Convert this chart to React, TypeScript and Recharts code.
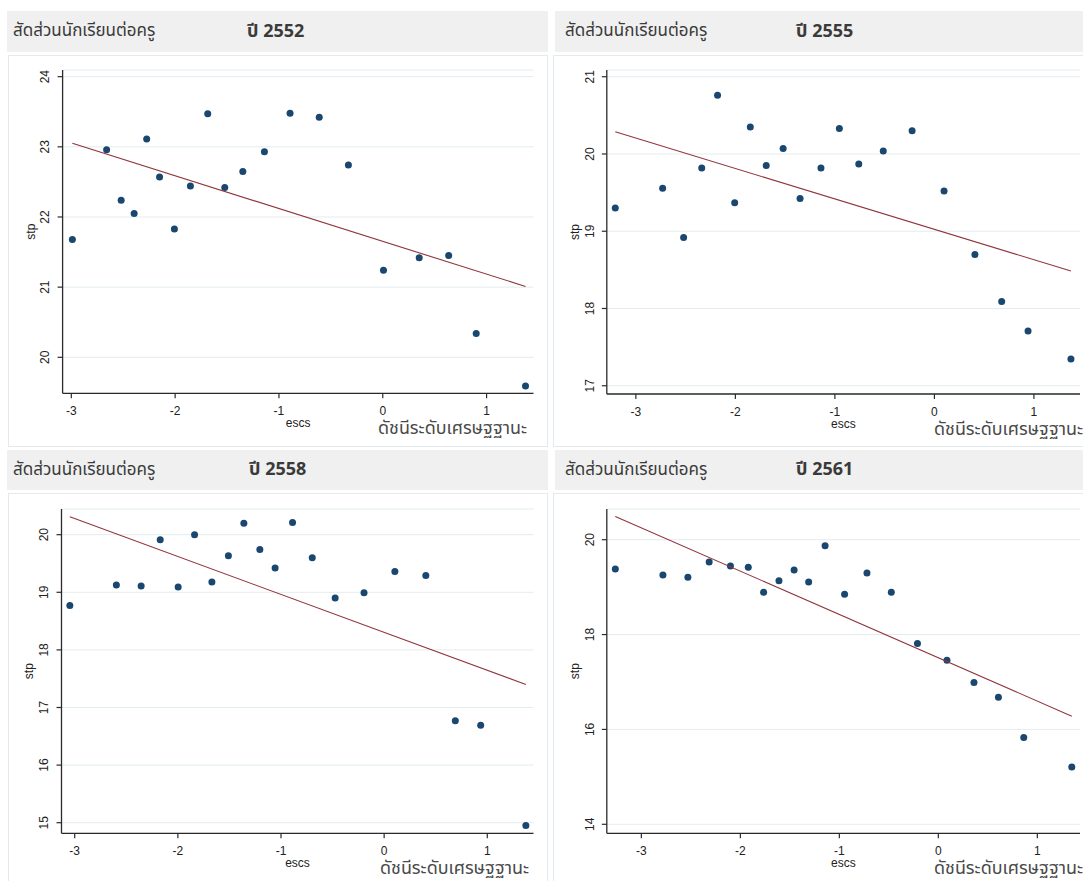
import React from "react";
import { ScatterChart, Scatter, XAxis, YAxis, CartesianGrid } from "recharts";

// ---------- DATA ----------
const xTicks = [-3, -2, -1, 0, 1];

const escs2552 = [-2.99, -2.66, -2.52, -2.395, -2.274, -2.15, -2.007, -1.853, -1.686, -1.522, -1.348, -1.14, -0.893, -0.612, -0.331, 0.007, 0.351, 0.635, 0.9, 1.375];
const stp2552 = [21.68, 22.96, 22.24, 22.05, 23.11, 22.57, 21.83, 22.44, 23.47, 22.42, 22.65, 22.93, 23.48, 23.42, 22.74, 21.24, 21.42, 21.45, 20.34, 19.59];
const fitEscs2552 = [-2.99, 1.375];
const fitStp2552 = [23.05, 21.01];
const yTicks2552 = [20, 21, 22, 23, 24];

const escs2555 = [-3.207, -2.731, -2.52, -2.338, -2.179, -2.007, -1.85, -1.69, -1.52, -1.35, -1.14, -0.955, -0.76, -0.514, -0.224, 0.097, 0.407, 0.676, 0.941, 1.372];
const stp2555 = [19.3, 19.555, 18.92, 19.82, 20.76, 19.37, 20.35, 19.85, 20.07, 19.425, 19.82, 20.33, 19.87, 20.04, 20.3, 19.52, 18.7, 18.09, 17.71, 17.345];
const fitEscs2555 = [-3.207, 1.372];
const fitStp2555 = [20.288, 18.484];
const yTicks2555 = [17, 18, 19, 20, 21];

const escs2558 = [-3.047, -2.596, -2.356, -2.171, -1.997, -1.838, -1.67, -1.51, -1.36, -1.205, -1.057, -0.888, -0.697, -0.475, -0.195, 0.104, 0.404, 0.69, 0.936, 1.374];
const stp2558 = [18.77, 19.126, 19.11, 19.91, 19.09, 20.0, 19.18, 19.635, 20.2, 19.745, 19.42, 20.21, 19.6, 18.9, 18.99, 19.36, 19.29, 16.77, 16.69, 14.95];
const fitEscs2558 = [-3.047, 1.374];
const fitStp2558 = [20.31, 17.4];
const yTicks2558 = [15, 16, 17, 18, 19, 20];

const escs2561 = [-3.263, -2.782, -2.53, -2.315, -2.1, -1.92, -1.765, -1.61, -1.457, -1.31, -1.144, -0.947, -0.721, -0.475, -0.211, 0.087, 0.36, 0.607, 0.863, 1.348];
const stp2561 = [19.38, 19.255, 19.21, 19.53, 19.445, 19.42, 18.89, 19.135, 19.36, 19.11, 19.87, 18.85, 19.3, 18.89, 17.81, 17.46, 16.99, 16.68, 15.83, 15.21];
const fitEscs2561 = [-3.263, 1.348];
const fitStp2561 = [20.49, 16.28];
const yTicks2561 = [14, 16, 18, 20];

const titleText = "สัดส่วนนักเรียนต่อครู";
const yearPrefix = "ปี";
const xTitle = "escs";
const yTitle = "stp";
const noteText = "ดัชนีระดับเศรษฐฐานะ";

// ---------- STYLE ----------
const FONT_THAI = "Tahoma, 'Noto Sans Thai', 'Noto Sans Thai UI', 'Leelawadee UI', 'Noto Sans', 'DejaVu Sans', sans-serif";
const FONT_AXIS = "Arial, 'Liberation Sans', Helvetica, sans-serif";
const MARKER = "#1a476f";
const FITLINE = "#90353b";
const AXIS = "#2b2b2b";
const GRID = "#e3ecef";

const zip = (xs: number[], ys: number[]) => xs.map((x, i) => ({ x, y: ys[i] }));

type Cfg = {
  year: string;
  pts: { x: number; y: number }[];
  fit: { x: number; y: number }[];
  yTicks: number[];
  xDomain: [number, number];
  yDomain: [number, number];
  head: { l: number; t: number; w: number; h: number; titleX: number; yearX: number };
  box: { l: number; t: number; w: number; h: number };
  plot: { l: number; t: number; r: number; b: number };
  noteX: number;
};

const panels: Cfg[] = [
  {
    year: "2552",
    pts: zip(escs2552, stp2552),
    fit: zip(fitEscs2552, fitStp2552),
    yTicks: yTicks2552,
    xDomain: [-3.084, 1.452],
    yDomain: [19.487, 24.095],
    head: { l: 7, t: 11, w: 541, h: 41, titleX: 13, yearX: 247 },
    box: { l: 8, t: 55, w: 540, h: 392 },
    plot: { l: 62.6, t: 70, r: 533.5, b: 393.3 },
    noteX: 378,
  },
  {
    year: "2555",
    pts: zip(escs2555, stp2555),
    fit: zip(fitEscs2555, fitStp2555),
    yTicks: yTicks2555,
    xDomain: [-3.292, 1.463],
    yDomain: [16.893, 21.087],
    head: { l: 555, t: 11, w: 540, h: 41, titleX: 565, yearX: 796 },
    box: { l: 553, t: 55, w: 540, h: 392 },
    plot: { l: 606.8, t: 70, r: 1080, b: 394 },
    noteX: 934,
  },
  {
    year: "2558",
    pts: zip(escs2558, stp2558),
    fit: zip(fitEscs2558, fitStp2558),
    yTicks: yTicks2558,
    xDomain: [-3.128, 1.448],
    yDomain: [14.816, 20.446],
    head: { l: 7, t: 450, w: 541, h: 40, titleX: 13, yearX: 249 },
    box: { l: 8, t: 493, w: 540, h: 392 },
    plot: { l: 61.5, t: 509, r: 533.5, b: 833.3 },
    noteX: 380,
  },
  {
    year: "2561",
    pts: zip(escs2561, stp2561),
    fit: zip(fitEscs2561, fitStp2561),
    yTicks: yTicks2561,
    xDomain: [-3.349, 1.431],
    yDomain: [13.81, 20.647],
    head: { l: 555, t: 450, w: 540, h: 40, titleX: 565, yearX: 796 },
    box: { l: 553, t: 493, w: 540, h: 392 },
    plot: { l: 606.8, t: 509, r: 1080, b: 833.3 },
    noteX: 934,
  },
];

const Dot = (props: any) => {
  const { cx, cy } = props;
  if (cx == null || cy == null) return <g />;
  return <circle cx={cx} cy={cy} r={3.5} fill={MARKER} />;
};

const NoDot = () => <g />;

function Panel({ c }: { c: Cfg }) {
  const { box, plot, head } = c;
  const YW = plot.l - box.l;
  const XH = 30;
  const mTop = plot.t - box.t;
  const mRight = box.l + box.w - plot.r;
  const mBottom = box.t + box.h - plot.b - XH;
  const axisY = plot.b - box.t;
  const plotCx = (plot.l + plot.r) / 2 - box.l;
  const plotCy = (plot.t + plot.b) / 2 - box.t;

  const XTick = (p: any) => (
    <text x={p.x} y={axisY + 22} textAnchor="middle" fontSize={12} fill="#222" fontFamily={FONT_AXIS}>
      {p.payload.value}
    </text>
  );
  const YTick = (p: any) => {
    const bx = YW - 17.4 + 4.3;
    return (
      <text x={bx} y={p.y} transform={`rotate(-90 ${bx} ${p.y})`} textAnchor="middle" fontSize={12} fill="#222" fontFamily={FONT_AXIS}>
        {p.payload.value}
      </text>
    );
  };

  const stpX = YW - 31 + 3;

  return (
    <>
      <div
        style={{
          position: "absolute",
          left: head.l,
          top: head.t,
          width: head.w,
          height: head.h,
          background: "#f0f0f0",
        }}
      />
      <div
        style={{
          position: "absolute",
          left: head.titleX,
          top: head.t,
          height: head.h,
          lineHeight: head.h + "px",
          fontFamily: FONT_THAI,
          fontSize: 17,
          color: "#3a3a3a",
          whiteSpace: "nowrap",
        }}
      >
        {titleText}
      </div>
      <div
        style={{
          position: "absolute",
          left: head.yearX,
          top: head.t,
          height: head.h,
          lineHeight: head.h + "px",
          fontFamily: FONT_THAI,
          fontSize: 18,
          fontWeight: "bold",
          color: "#3a3a3a",
          whiteSpace: "nowrap",
        }}
      >
        {yearPrefix} {c.year}
      </div>
      <div
        style={{
          position: "absolute",
          left: box.l,
          top: box.t,
          width: box.w - 2,
          height: box.h - 2,
          border: "1px solid #e2eaed",
          background: "#fff",
        }}
      />
      <div style={{ position: "absolute", left: box.l, top: box.t }}>
        <ScatterChart
          width={box.w}
          height={box.h}
          margin={{ top: mTop, right: mRight, bottom: mBottom, left: 0 }}
        >
          <CartesianGrid vertical={false} stroke={GRID} strokeWidth={1} />
          <XAxis
            type="number"
            dataKey="x"
            domain={c.xDomain}
            ticks={xTicks}
            interval={0}
            allowDataOverflow
            height={XH}
            tickSize={5}
            axisLine={{ stroke: AXIS, strokeWidth: 1.3 }}
            tickLine={{ stroke: AXIS, strokeWidth: 1.2 }}
            tick={XTick}
          />
          <YAxis
            type="number"
            dataKey="y"
            domain={c.yDomain}
            ticks={c.yTicks}
            interval={0}
            allowDataOverflow
            width={YW}
            tickSize={5}
            axisLine={{ stroke: AXIS, strokeWidth: 1.3 }}
            tickLine={{ stroke: AXIS, strokeWidth: 1.2 }}
            tick={YTick}
          />
          <Scatter data={c.pts} shape={Dot} isAnimationActive={false} />
          <Scatter
            data={c.fit}
            shape={NoDot}
            line={{ stroke: FITLINE, strokeWidth: 1.1 }}
            isAnimationActive={false}
          />
        </ScatterChart>
      </div>
      <svg
        style={{ position: "absolute", left: box.l, top: box.t, overflow: "visible", pointerEvents: "none" }}
        width={box.w}
        height={box.h}
      >
        <text
          x={stpX}
          y={plotCy}
          transform={`rotate(-90 ${stpX} ${plotCy})`}
          textAnchor="middle"
          fontSize={12}
          fill="#222"
          fontFamily={FONT_AXIS}
        >
          {yTitle}
        </text>
        <text x={plotCx} y={axisY + 34} textAnchor="middle" fontSize={12} fill="#222" fontFamily={FONT_AXIS}>
          {xTitle}
        </text>
        <text
          x={c.noteX - box.l}
          y={axisY + 41}
          fontSize={17}
          fill="#4a4a4a"
          fontFamily={FONT_THAI}
          textLength={149}
          lengthAdjust="spacingAndGlyphs"
        >
          {noteText}
        </text>
      </svg>
    </>
  );
}

export default function App() {
  return (
    <div
      style={{
        position: "absolute",
        left: 0,
        top: 0,
        width: 1083,
        height: 881,
        overflow: "hidden",
        background: "#fff",
      }}
    >
      {panels.map((c) => (
        <Panel key={c.year} c={c} />
      ))}
    </div>
  );
}
